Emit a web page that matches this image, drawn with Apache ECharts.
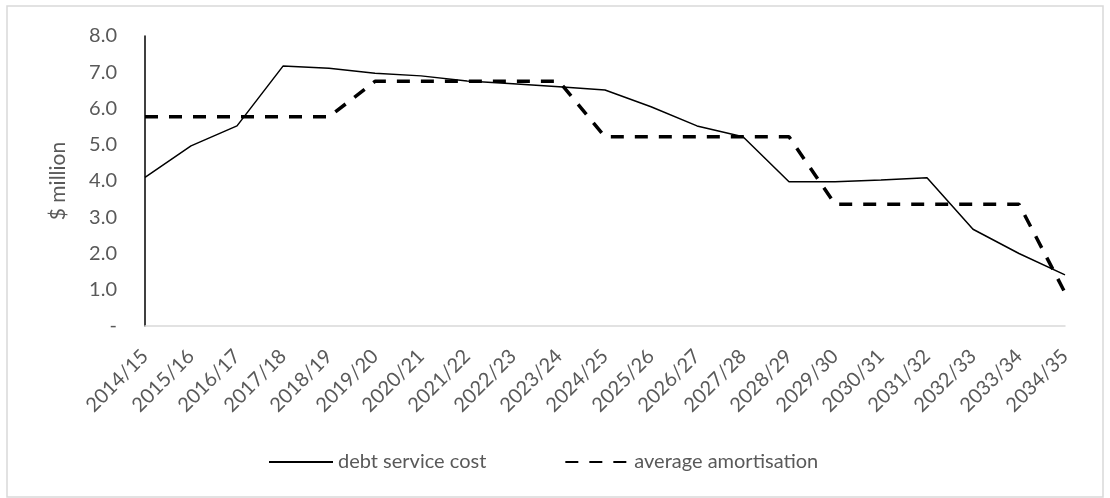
<!DOCTYPE html>
<html><head><meta charset="utf-8">
<script src="https://cdn.jsdelivr.net/npm/echarts@6/dist/echarts.min.js"></script>
<style>html,body{margin:0;padding:0;background:#fff}#c{width:1110px;height:498px}</style>
</head><body><div id="c"></div>
<script>
const categories = ['2014/15','2015/16','2016/17','2017/18','2018/19','2019/20','2020/21','2021/22','2022/23','2023/24','2024/25','2025/26','2026/27','2027/28','2028/29','2029/30','2030/31','2031/32','2032/33','2033/34','2034/35'];
const debtServiceCost = [4.1, 4.97, 5.52, 7.17, 7.11, 6.97, 6.9, 6.76, 6.68, 6.6, 6.51, 6.05, 5.52, 5.22, 3.98, 3.98, 4.03, 4.09, 2.67, 2.0, 1.41];
const averageAmortisation = [5.77, 5.77, 5.77, 5.77, 5.77, 6.75, 6.75, 6.75, 6.75, 6.75, 5.22, 5.22, 5.22, 5.22, 5.22, 3.36, 3.36, 3.36, 3.36, 3.36, 0.92];
const yTicks = [0, 1, 2, 3, 4, 5, 6, 7, 8];

const FONT = 'Lato';
const chart = echarts.init(document.getElementById('c'), null, {renderer: 'canvas'});
chart.setOption({
  animation: false,
  backgroundColor: '#fff',
  graphic: [{type: 'rect', shape: {x: 7, y: 6, width: 1096, height: 491}, style: {fill: 'none', stroke: '#d9d9d9', lineWidth: 1.5}, silent: true}],
  grid: {left: 145, right: 45, top: 36, bottom: 172},
  legend: {
    left: 263, top: 447, itemWidth: 64, itemHeight: 14, itemGap: 78,
    itemStyle: {opacity: 0},
    textStyle: {fontFamily: FONT, fontSize: 20, color: '#595959'},
    data: ['debt service cost', 'average amortisation']
  },
  xAxis: {
    type: 'category', data: categories, boundaryGap: false,
    axisLine: {lineStyle: {color: '#d9d9d9', width: 1.5}},
    axisTick: {show: false},
    axisLabel: {rotate: 45, interval: 0, margin: 27, fontFamily: FONT, fontSize: 20, color: '#595959'}
  },
  yAxis: {
    type: 'value', min: yTicks[0], max: yTicks[yTicks.length - 1], interval: 1,
    name: '$ million', nameLocation: 'middle', nameGap: 76, nameRotate: 90,
    nameTextStyle: {fontFamily: FONT, fontSize: 21, color: '#595959'},
    axisLine: {show: true, lineStyle: {color: '#000', width: 1.5}},
    axisTick: {show: false},
    splitLine: {show: false},
    axisLabel: {margin: 28, fontFamily: FONT, fontSize: 20, color: '#595959',
      formatter: v => v === 0 ? '-' : v.toFixed(1)}
  },
  series: [
    {name: 'debt service cost', type: 'line', data: debtServiceCost, symbol: 'none',
      lineStyle: {color: '#000', width: 1.5}, itemStyle: {color: '#000'}},
    {name: 'average amortisation', type: 'line', data: averageAmortisation, symbol: 'none',
      lineStyle: {color: '#000', width: 3.5, type: [13, 11]}, itemStyle: {color: '#000'}}
  ]
});
</script></body></html>
